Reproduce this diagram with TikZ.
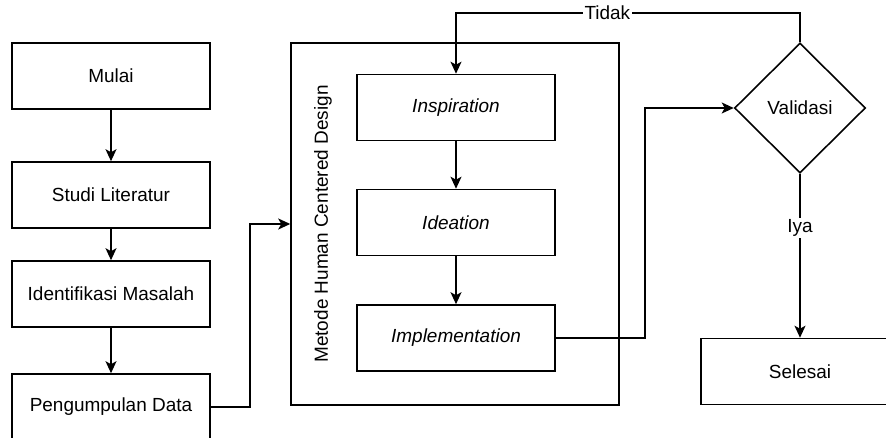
\documentclass[tikz,border=0pt]{standalone}
\usepackage{fontspec}
\setmainfont{Liberation Sans}
\usetikzlibrary{shapes.geometric,positioning,arrows.meta}

\begin{document}
\begin{tikzpicture}[x=0.02cm, y=-0.02cm, line width=.9pt,
    font=\fontsize{10.8}{13}\selectfont,
    box/.style={draw, minimum width=3.96cm, minimum height=1.32cm, inner sep=0pt},
    stage/.style={box, font=\fontsize{10.8}{13}\selectfont\itshape},
    decision/.style={draw, diamond, minimum width=2.62cm, minimum height=2.6cm, inner sep=0pt},
    arr/.style={-{Stealth[length=2.4mm,width=2.2mm,inset=.6mm]}},
    lbl/.style={fill=white, inner sep=1pt}]

\clip (0,0) rectangle (886,438);

% Left column
\node[box] (mulai) at (111,76) {Mulai};
\node[box] (studi) at (111,195) {Studi Literatur};
\node[box] (ident) at (111,294) {Identifikasi Masalah};
\node[box] (kumpul) at (111,407) {Pengumpulan Data};

% Human Centered Design
\node[draw, minimum width=6.56cm, minimum height=7.24cm, inner sep=0pt] (hcd) at (455,224) {};
\node[rotate=90] (hcdlabel) at (323,224) {Metode Human Centered Design};
\node[stage] (insp) at (456,107.5) {Inspiration};
\node[stage] (idea) at (456,222.5) {Ideation};
\node[stage] (impl) at (456,338) {Implementation};

% Validation and end
\node[decision] (valid) at (800,108) {Validasi};
\node[box] (selesai) at (800,371.5) {Selesai};

% Arrows
\draw[arr] (mulai) -- (studi);
\draw[arr] (studi) -- (ident);
\draw[arr] (ident) -- (kumpul);
\draw[arr] (kumpul.east) -- ++(39,0) |- (hcd.west);
\draw[arr] (insp) -- (idea);
\draw[arr] (idea) -- (impl);
\draw[arr] (impl.east) -- ++(89,0) |- (valid.west);
\draw[arr] (valid.north) -- ++(0,-29) -| node[pos=.28, lbl] {Tidak} (insp.north);
\draw[arr] (valid.south) -- node[pos=.33, lbl] {Iya} (selesai.north);

\end{tikzpicture}
\end{document}
